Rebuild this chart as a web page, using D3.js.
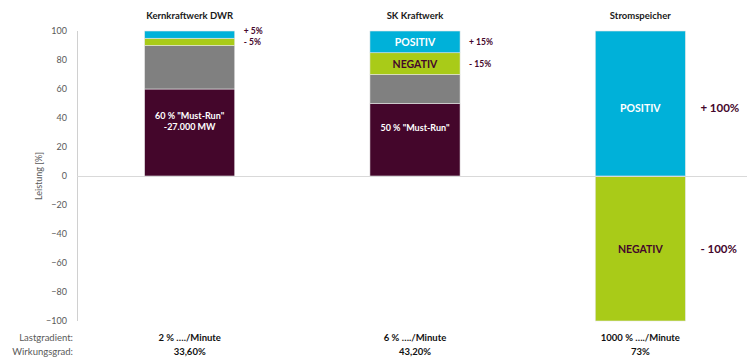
<!DOCTYPE html>
<html>
<head>
<meta charset="utf-8">
<script src="https://d3js.org/d3.v7.min.js"></script>
<style>
  body { margin: 0; background: #fff; }
  text { font-family: Lato, "Open Sans", sans-serif; }
</style>
</head>
<body>
<script>
// data
var categories = ["Kernkraftwerk DWR", "SK Kraftwerk", "Stromspeicher"];
var mustRun  = [60, 50, 0];
var regelbar = [30, 20, 0];
var negativ  = [5, 15, -100];
var positiv  = [5, 15, 100];
var mustRunLabels = [["60 % \"Must-Run\"", "-27.000 MW"], ["50 % \"Must-Run\""], []];
var posLabels = ["+ 5%", "+ 15%", "+ 100%"];
var negLabels = ["- 5%", "- 15%", "- 100%"];
var lastgradient = ["2 % …./Minute", "6 % …./Minute", "1000 % …./Minute"];
var wirkungsgrad = ["33,60%", "43,20%", "73%"];
var yTicks = [100, 80, 60, 40, 20, 0, -20, -40, -60, -80, -100];

var W = 747, H = 358;
var colors = { mustRun: "#44062b", regelbar: "#808080", negativ: "#a9cb18", positiv: "#00b1d9" };

var svg = d3.select("body").append("svg").attr("width", W).attr("height", H);

var x = d3.scaleBand().domain(categories).range([77, 753]).paddingInner(0.6).paddingOuter(0.3);
var y = d3.scaleLinear().domain([-100, 100]).range([321, 31]);

var table = categories.map(function(c, i) {
  return { cat: c, mustRun: mustRun[i], regelbar: regelbar[i], negativ: negativ[i], positiv: positiv[i] };
});
var keys = ["mustRun", "regelbar", "negativ", "positiv"];
var series = d3.stack().keys(keys).offset(d3.stackOffsetDiverging)(table);

// y axis line
svg.append("line").attr("x1", 77.5).attr("x2", 77.5).attr("y1", y(100)).attr("y2", y(-100))
  .attr("stroke", "#d0d0d0");

var yAxis = svg.append("g").attr("transform", "translate(77,0)")
  .call(d3.axisLeft(y).tickValues(yTicks).tickSize(0).tickPadding(10));
yAxis.select(".domain").remove();
yAxis.selectAll("text").attr("fill", "#595959").attr("font-size", 9).style("font-family", "Lato, sans-serif");

svg.append("text").attr("transform", "translate(42," + y(0) + ") rotate(-90)")
  .attr("text-anchor", "middle").attr("font-size", 9).attr("fill", "#595959").text("Leistung [%]");

// bars
svg.selectAll("g.layer").data(series).join("g").attr("class", "layer")
  .attr("fill", function(s) { return colors[s.key]; })
  .selectAll("rect").data(function(s) { return s; }).join("rect")
  .attr("x", function(d) { return x(d.data.cat); })
  .attr("width", x.bandwidth())
  .attr("y", function(d) { return y(Math.max(d[0], d[1])); })
  .attr("height", function(d) { return Math.abs(y(d[0]) - y(d[1])); })
  .attr("stroke", "#e6e6e6").attr("stroke-width", 0.6);

// zero line
svg.append("line").attr("x1", 77).attr("x2", W).attr("y1", y(0) + 0.5).attr("y2", y(0) + 0.5)
  .attr("stroke", "#d9d9d9");

// titles
svg.selectAll("text.title").data(categories).join("text").attr("class", "title")
  .attr("x", function(c) { return x(c) + x.bandwidth() / 2; }).attr("y", 19)
  .attr("text-anchor", "middle").attr("font-size", 9.5).attr("font-weight", "bold").attr("fill", "#1a1a1a")
  .text(function(c) { return c; });

function mid(key, i) {
  var s = series.find(function(d) { return d.key === key; })[i];
  return y((s[0] + s[1]) / 2);
}

// must-run labels
categories.forEach(function(c, i) {
  var lines = mustRunLabels[i];
  if (!lines.length) return;
  var cy = mid("mustRun", i) - 12 - (lines.length - 1) * 5;
  lines.forEach(function(t, j) {
    svg.append("text").attr("x", x(c) + x.bandwidth() / 2).attr("y", cy + j * 11 + 3)
      .attr("text-anchor", "middle").attr("font-size", 9).attr("font-weight", "bold")
      .attr("fill", "#fff").text(t);
  });
});

// POSITIV / NEGATIV inside bars (skip where too thin)
categories.forEach(function(c, i) {
  var cx = x(c) + x.bandwidth() / 2;
  if (Math.abs(positiv[i]) >= 10) {
    svg.append("text").attr("x", cx).attr("y", mid("positiv", i) + (positiv[i] >= 50 ? 8 : 4))
      .attr("text-anchor", "middle")
      .attr("font-size", 10.5).attr("font-weight", "bold").attr("fill", "#fff").text("POSITIV");
  }
  if (Math.abs(negativ[i]) >= 10) {
    svg.append("text").attr("x", cx).attr("y", mid("negativ", i) + 4).attr("text-anchor", "middle")
      .attr("font-size", 10.5).attr("font-weight", "bold").attr("fill", "#44062b").text("NEGATIV");
  }
});

// side labels
categories.forEach(function(c, i) {
  var big = Math.abs(positiv[i]) >= 50;
  var lx = x(c) + x.bandwidth() + (big ? 15 : 9);
  var ny = mid("negativ", i);
  var py = Math.min(mid("positiv", i), ny - 12);
  if (!big) { py = Math.max(py, y(100)); }
  else { py += 4; }
  [[posLabels[i], py], [negLabels[i], ny]].forEach(function(p) {
    svg.append("text").attr("x", lx).attr("y", p[1] + (big ? 4 : 3)).attr("font-size", big ? 11.5 : 8.5)
      .attr("font-weight", "bold").attr("fill", "#44062b").text(p[0]);
  });
});

// bottom rows
svg.append("text").attr("x", 73).attr("y", 341).attr("text-anchor", "end").attr("font-size", 9.5)
  .attr("fill", "#595959").text("Lastgradient:");
svg.append("text").attr("x", 73).attr("y", 355).attr("text-anchor", "end").attr("font-size", 9.5)
  .attr("fill", "#595959").text("Wirkungsgrad:");
categories.forEach(function(c, i) {
  var cx = x(c) + x.bandwidth() / 2;
  svg.append("text").attr("x", cx).attr("y", 341).attr("text-anchor", "middle").attr("font-size", 9.5)
    .attr("font-weight", "bold").attr("fill", "#111").text(lastgradient[i]);
  svg.append("text").attr("x", cx).attr("y", 355).attr("text-anchor", "middle").attr("font-size", 9.5)
    .attr("font-weight", "bold").attr("fill", "#111").text(wirkungsgrad[i]);
});
</script>
</body>
</html>
